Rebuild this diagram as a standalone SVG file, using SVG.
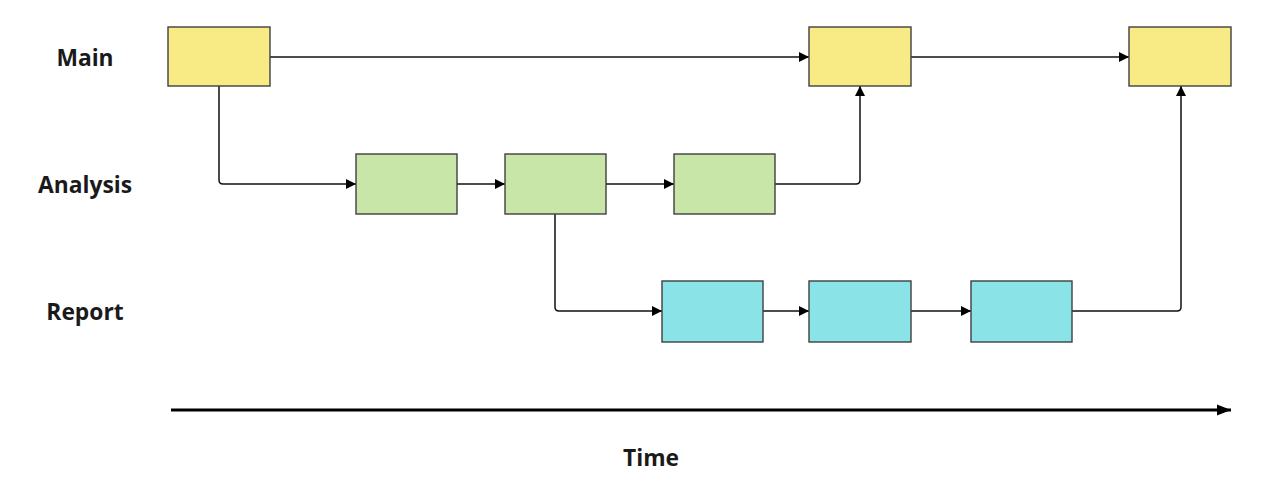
<svg xmlns="http://www.w3.org/2000/svg" width="1285" height="504" viewBox="0 0 1285 504">
  <style>
    .lane { font-family: "Open Sans", "Liberation Sans", sans-serif; font-weight: bold; font-size: 22.8px; fill: #1a1a1a; text-anchor: middle; dominant-baseline: central; }
    .box { stroke: #3f3f3f; stroke-width: 1.4; }
    .main { fill: #f8eb86; }
    .ana { fill: #c8e6a7; }
    .rep { fill: #8ae3e7; }
    .edge { fill: none; stroke: #111; stroke-width: 1.5; marker-end: url(#arrow); }
  </style>
  <defs>
    <marker id="arrow" viewBox="0 0 10 10" refX="10" refY="5" markerWidth="10" markerHeight="10" markerUnits="userSpaceOnUse" orient="auto">
      <path d="M0,0 L10,5 L0,10 Z" fill="#000"/>
    </marker>
    <marker id="arrowBig" viewBox="0 0 10 10" refX="10" refY="5" markerWidth="14" markerHeight="14" markerUnits="userSpaceOnUse" orient="auto">
      <path d="M0,1 L10,5 L0,9 Z" fill="#000"/>
    </marker>
  </defs>
  <rect width="1285" height="504" fill="#ffffff"/>

  <!-- lane labels -->
  <text class="lane" x="85" y="57">Main</text>
  <text class="lane" x="85" y="184">Analysis</text>
  <text class="lane" x="85" y="311">Report</text>
  <text class="lane" x="651" y="457">Time</text>

  <!-- connectors -->
  <g id="connectors">
    <path class="edge" d="M270,57 H809"/>
    <path class="edge" d="M911,57 H1129"/>
    <path class="edge" d="M219,86 V180 Q219,184 223,184 H356"/>
    <path class="edge" d="M457,184 H505"/>
    <path class="edge" d="M606,184 H674"/>
    <path class="edge" d="M775,184 H856 Q860,184 860,180 V86"/>
    <path class="edge" d="M555,214 V307 Q555,311 559,311 H662"/>
    <path class="edge" d="M763,311 H809"/>
    <path class="edge" d="M911,311 H971"/>
    <path class="edge" d="M1072,311 H1177 Q1181,311 1181,307 V86"/>
    <path d="M171,410 H1231" fill="none" stroke="#000" stroke-width="3" marker-end="url(#arrowBig)"/>
  </g>

  <!-- nodes -->
  <g id="main1"><rect class="box main" x="168" y="27" width="102" height="59"/></g>
  <g id="main2"><rect class="box main" x="809" y="27" width="102" height="59"/></g>
  <g id="main3"><rect class="box main" x="1129" y="27" width="102" height="59"/></g>
  <g id="analysis1"><rect class="box ana" x="356" y="154" width="101" height="60"/></g>
  <g id="analysis2"><rect class="box ana" x="505" y="154" width="101" height="60"/></g>
  <g id="analysis3"><rect class="box ana" x="674" y="154" width="101" height="60"/></g>
  <g id="report1"><rect class="box rep" x="662" y="281" width="101" height="61"/></g>
  <g id="report2"><rect class="box rep" x="809" y="281" width="102" height="61"/></g>
  <g id="report3"><rect class="box rep" x="971" y="281" width="101" height="61"/></g>
</svg>
